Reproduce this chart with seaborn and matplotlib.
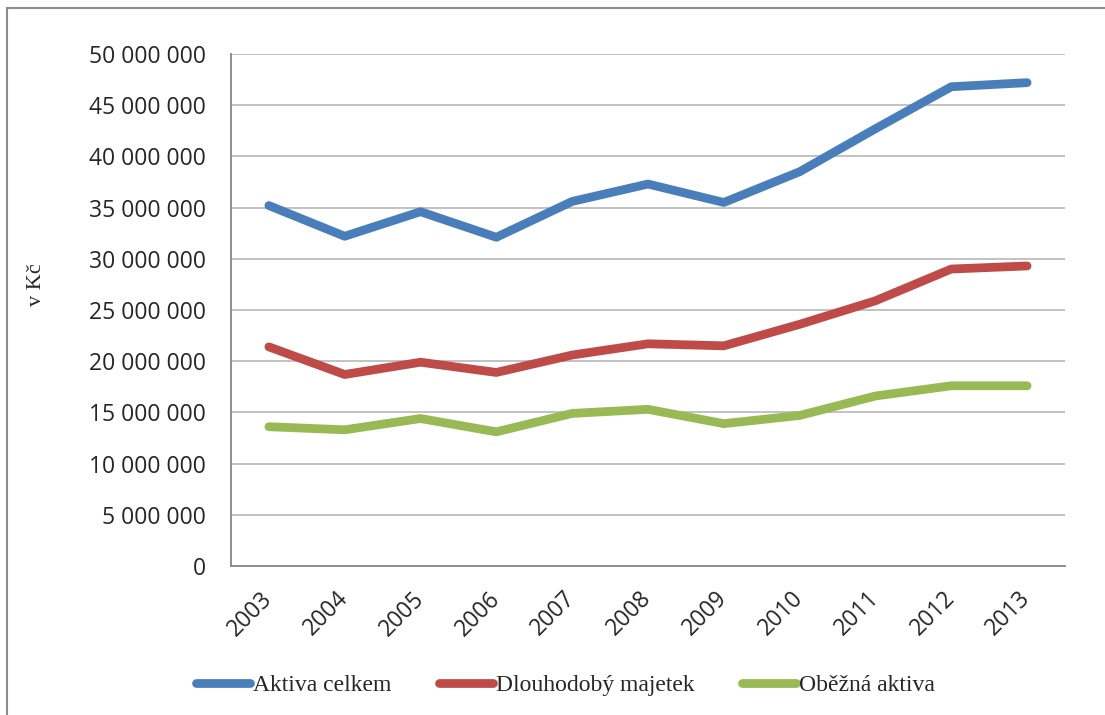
import numpy as np
import pandas as pd
import seaborn as sns
import matplotlib.pyplot as plt
from matplotlib.lines import Line2D
from matplotlib.ticker import FuncFormatter

years = ['2003', '2004', '2005', '2006', '2007', '2008', '2009', '2010', '2011', '2012', '2013']
aktiva_celkem = [35.2, 32.2, 34.6, 32.1, 35.6, 37.3, 35.5, 38.5, 42.7, 46.8, 47.2]
dlouhodoby_majetek = [21.4, 18.7, 19.9, 18.9, 20.6, 21.7, 21.5, 23.6, 25.9, 29.0, 29.3]
obezna_aktiva = [13.6, 13.3, 14.4, 13.1, 14.9, 15.3, 13.9, 14.7, 16.6, 17.6, 17.6]
series_names = ['Aktiva celkem', 'Dlouhodobý majetek', 'Oběžná aktiva']
colors = ['#4A7EBB', '#BE4B48', '#98B954']

rows = []
for name, vals in zip(series_names, [aktiva_celkem, dlouhodoby_majetek, obezna_aktiva]):
    for i, v in enumerate(vals):
        rows.append({'pos': i, 'rok': years[i], 'hodnota': v * 1e6, 'serie': name})
df = pd.DataFrame(rows)

sns.set_style('white')
plt.rcParams['font.family'] = ['Open Sans', 'DejaVu Sans']

fig = plt.figure(figsize=(11.05, 7.15), dpi=100)
ax = fig.add_axes([0.209, 0.2084, 0.7548, 0.7161])

sns.lineplot(data=df, x='pos', y='hodnota', hue='serie', palette=colors,
             linewidth=6.3, ax=ax, legend=False, solid_capstyle='round')

ax.set_xlim(-0.5, len(years) - 0.5)
ax.set_ylim(0, 50e6)
ax.set_yticks(np.arange(0, 50e6 + 1, 5e6))
ax.yaxis.set_major_formatter(FuncFormatter(lambda v, p: f'{int(v):,}'.replace(',', ' ')))
ax.grid(axis='y', color='#BDBDBD', linewidth=1.3)
ax.set_axisbelow(True)

# category labels at centers, tick marks at boundaries
ax.set_xticks(range(len(years)))
ax.set_xticklabels(years, rotation=45, ha='right', va='center', rotation_mode='anchor')
ax.set_xticks(np.arange(-0.5, len(years)), minor=True)
ax.tick_params(axis='x', which='major', length=0, pad=21, labelsize=16.5)
ax.tick_params(axis='x', which='minor', length=7, width=1.3, color='#868686', direction='out')
ax.tick_params(axis='y', length=7, width=1.3, color='#868686', direction='out', labelsize=16.5, pad=11)

for s in ['top', 'right']:
    ax.spines[s].set_visible(False)
for s in ['left', 'bottom']:
    ax.spines[s].set_color('#868686')
    ax.spines[s].set_linewidth(1.3)

ax.set_xlabel('')
ax.set_ylabel('v Kč', family='Liberation Serif', fontsize=16, va='center')
ax.yaxis.set_label_coords(-0.2326, 0.549)

handles = [Line2D([0], [0], color=c, linewidth=6.3, solid_capstyle='round') for c in colors]
fig.legend(handles, series_names, loc='center', bbox_to_anchor=(0.5118, 0.041), ncol=3,
           frameon=False, prop={'family': 'Liberation Serif', 'size': 17},
           handlelength=2.3, handletextpad=0.12, columnspacing=2.0)

# outer frame (left and top edges visible)
fig.add_artist(Line2D([0.0065, 0.0065], [0, 0.989], color='#8C8C8C', linewidth=1.5))
fig.add_artist(Line2D([0.0065, 1], [0.989, 0.989], color='#8C8C8C', linewidth=1.5))

fig.savefig('out.png', dpi=100)
